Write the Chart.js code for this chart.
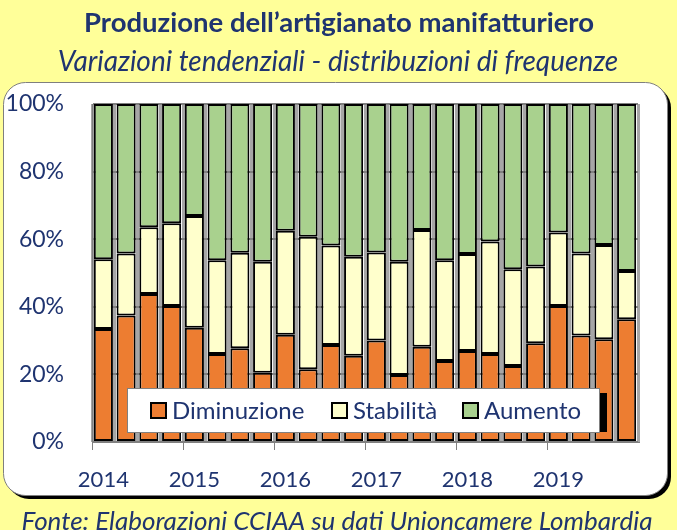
<!DOCTYPE html>
<html>
<head>
<meta charset="utf-8">
<script src="https://cdn.jsdelivr.net/npm/chart.js@4.4.1/dist/chart.umd.min.js"></script>
<style>
  html, body { margin: 0; padding: 0; background: #FFFF99; }
  #c { display: block; }
</style>
</head>
<body>
<canvas id="c" width="677" height="530"></canvas>
<script>
const categories = ['2014','','','','2015','','','','2016','','','','2017','','','','2018','','','','2019','','',''];
const diminuzione = [33.4,37.4,43.8,40.2,33.8,26.0,27.7,20.5,31.7,21.5,28.7,25.5,30.0,19.8,28.2,24.0,26.9,26.0,22.5,29.2,40.2,31.5,30.4,36.3];
const stabilita   = [20.7,18.4,19.7,24.5,33.1,27.8,28.3,32.8,30.8,39.2,29.4,29.3,26.1,33.5,34.5,29.8,28.7,33.3,28.6,22.7,21.8,24.3,27.9,14.3];
const aumento     = [45.9,44.2,36.5,35.3,33.1,46.2,44.0,46.7,37.5,39.3,41.9,45.2,43.9,46.7,37.3,46.2,44.4,40.7,48.9,48.1,38.0,44.2,41.7,49.4];
const yTicks = [0,20,40,60,80,100];

const titleText = 'Produzione dell\u2019artigianato manifatturiero';
const subtitleText = 'Variazioni tendenziali - distribuzioni di frequenze';
const footerText = 'Fonte: Elaborazioni CCIAA su dati Unioncamere Lombardia';

const NAVY = '#1F3470';
const FONT = 'Lato';

function roundRect(ctx, x, y, w, h, r) {
  ctx.beginPath();
  ctx.moveTo(x + r, y);
  ctx.lineTo(x + w - r, y);
  ctx.arcTo(x + w, y, x + w, y + r, r);
  ctx.lineTo(x + w, y + h - r);
  ctx.arcTo(x + w, y + h, x + w - r, y + h, r);
  ctx.lineTo(x + r, y + h);
  ctx.arcTo(x, y + h, x, y + h - r, r);
  ctx.lineTo(x, y + r);
  ctx.arcTo(x, y, x + r, y, r);
  ctx.closePath();
}

const backgroundPlugin = {
  id: 'bg',
  beforeDraw(chart) {
    const ctx = chart.ctx;
    ctx.save();
    ctx.fillStyle = '#FFFF99';
    ctx.fillRect(0, 0, chart.width, chart.height);
    ctx.fillStyle = '#000';
    roundRect(ctx, 7, 86, 664, 413, 22);
    ctx.fill();
    ctx.fillStyle = '#FFFFFF';
    ctx.strokeStyle = '#7F7F7F';
    ctx.lineWidth = 1;
    roundRect(ctx, 3.5, 82.5, 664, 413, 22);
    ctx.fill();
    ctx.stroke();
    ctx.fillStyle = NAVY;
    ctx.textAlign = 'center';
    ctx.textBaseline = 'middle';
    ctx.font = 'bold 27.5px ' + FONT;
    ctx.fillText(titleText, 339, 23);
    ctx.font = 'italic 28px ' + FONT;
    ctx.fillText(subtitleText, 338, 62);
    ctx.font = 'italic 26px ' + FONT;
    ctx.fillText(footerText, 337, 522);
    ctx.restore();
  }
};

const legendPlugin = {
  id: 'boxLegend',
  afterDatasetsDraw(chart) {
    const ctx = chart.ctx;
    const x = 127, y = 388, w = 473, h = 45;
    ctx.save();
    ctx.fillStyle = '#000';
    ctx.fillRect(x + w, y + 5, 7, h - 6);
    ctx.fillStyle = '#FFF';
    ctx.fillRect(x, y, w, h);
    ctx.strokeStyle = '#808080';
    ctx.lineWidth = 1;
    ctx.strokeRect(x + 0.5, y + 0.5, w - 1, h - 1);
    ctx.font = '24px ' + FONT;
    ctx.textBaseline = 'middle';
    ctx.textAlign = 'left';
    const starts = [151, 332, 463];
    chart.data.datasets.forEach((ds, i) => {
      const sx = starts[i];
      ctx.fillStyle = ds.backgroundColor;
      ctx.fillRect(sx, y + 15, 15, 15);
      ctx.strokeStyle = '#000';
      ctx.lineWidth = 2;
      ctx.strokeRect(sx, y + 15, 15, 15);
      ctx.fillStyle = NAVY;
      ctx.fillText(ds.label, sx + 21, y + h / 2 + 1);
    });
    ctx.restore();
  }
};

const commonDs = { borderColor: '#000000', borderWidth: 2, borderSkipped: false, barPercentage: 0.84, categoryPercentage: 1.0 };

new Chart(document.getElementById('c'), {
  type: 'bar',
  data: {
    labels: categories,
    datasets: [
      Object.assign({ label: 'Diminuzione', data: diminuzione, backgroundColor: '#ED7D31' }, commonDs),
      Object.assign({ label: 'Stabilit\u00e0', data: stabilita, backgroundColor: '#FFFFCC' }, commonDs),
      Object.assign({ label: 'Aumento', data: aumento, backgroundColor: '#A9D18E' }, commonDs)
    ]
  },
  options: {
    responsive: false,
    devicePixelRatio: 1,
    animation: false,
    layout: { padding: { top: 104, right: 39, bottom: 0, left: 0 } },
    plugins: {
      legend: { display: false },
      title: { display: false },
      tooltip: { enabled: false }
    },
    scales: {
      x: {
        stacked: true,
        afterFit(scale) { scale.height = 88; },
        grid: {
          offset: true,
          color: '#A6A6A6',
          lineWidth: 3,
          tickLength: 8,
          tickColor: (c) => (c.index % 4 === 0 ? '#808080' : 'rgba(0,0,0,0)'),
          tickWidth: 1
        },
        border: { display: true, color: '#808080', width: 1 },
        ticks: {
          autoSkip: false,
          maxRotation: 0,
          padding: 17,
          color: NAVY,
          font: { family: FONT, size: 22 }
        }
      },
      y: {
        stacked: true,
        min: 0,
        max: 100,
        afterFit(scale) { scale.width = 92; },
        afterBuildTicks(scale) { scale.ticks = yTicks.map(v => ({ value: v })); },
        grid: { color: '#808080', lineWidth: 2, drawTicks: false },
        border: { display: true, color: '#808080', width: 1 },
        ticks: {
          padding: 28,
          color: NAVY,
          font: { family: FONT, size: 23 },
          callback: (v) => v + '%'
        }
      }
    }
  },
  plugins: [backgroundPlugin, legendPlugin]
});
</script>
</body>
</html>
